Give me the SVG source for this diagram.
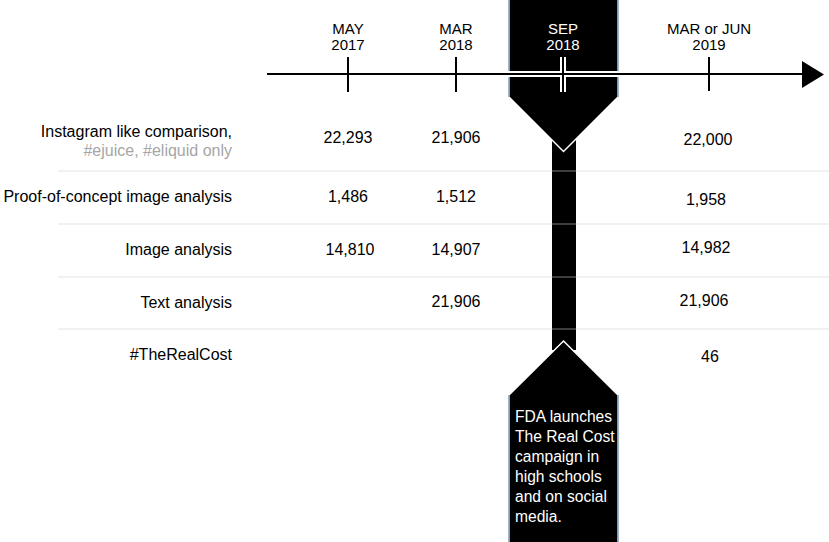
<svg xmlns="http://www.w3.org/2000/svg" width="829" height="542" viewBox="0 0 829 542">
<style>
text{font-family:"Liberation Sans",Arial,sans-serif;font-size:16px;fill:#000}
.t{font-size:15px}
.b{font-size:15.6px}
.r{text-anchor:end}
.m{text-anchor:middle}
.g{fill:#a6a6a6}
.w{fill:#fff}
.sep{stroke:#d0d0d0;stroke-opacity:0.4;stroke-width:1.5}
.blk{fill:#000;stroke:#fff;stroke-width:1.5}
.blue{stroke:#41719c;stroke-width:1}
</style>
<rect width="829" height="542" fill="#fff"/>
<g id="sep-bar">
<rect x="552" y="135" width="24" height="215" fill="#000"/>
<path class="blk" d="M509,-2 L618,-2 L618,97 L563.5,151.5 L509,97 Z"/>
<line class="blue" x1="509" y1="0" x2="509" y2="97"/>
<line class="blue" x1="618" y1="0" x2="618" y2="97"/>
<path class="blk" d="M563.5,341 L618,395 L618,544 L509,544 L509,395 Z"/>
<line class="blue" x1="509" y1="395" x2="509" y2="542"/>
<line class="blue" x1="618" y1="395" x2="618" y2="542"/>
<text class="w b" x="515" y="422">FDA launches</text>
<text class="w b" x="515" y="442">The Real Cost</text>
<text class="w b" x="515" y="462">campaign in</text>
<text class="w b" x="515" y="482">high schools</text>
<text class="w b" x="515" y="502">and on social</text>
<text class="w b" x="515" y="522">media.</text>
</g>
<g id="separators">
<line class="sep" x1="58" y1="171" x2="829" y2="171"/>
<line class="sep" x1="58" y1="224" x2="829" y2="224"/>
<line class="sep" x1="58" y1="277" x2="829" y2="277"/>
<line class="sep" x1="58" y1="329" x2="829" y2="329"/>
</g>
<g id="timeline">
<g stroke="#fff" stroke-width="6" fill="none">
<line x1="267" y1="74" x2="804" y2="74"/>
<line x1="563" y1="57" x2="563" y2="92"/>
</g>
<g stroke="#000" stroke-width="2" fill="none">
<line x1="267" y1="74" x2="804" y2="74"/>
<line x1="348" y1="57" x2="348" y2="92"/>
<line x1="456" y1="57" x2="456" y2="92"/>
<line x1="709" y1="57" x2="709" y2="91"/>
<line x1="563" y1="57" x2="563" y2="92"/>
</g>
<path d="M802,61 L824,74.5 L802,88 Z" fill="#000"/>
<text class="m t" x="348" y="34">MAY</text>
<text class="m t" x="348" y="50">2017</text>
<text class="m t" x="456" y="34">MAR</text>
<text class="m t" x="456" y="50">2018</text>
<text class="m t w" x="563" y="34">SEP</text>
<text class="m t w" x="563" y="50">2018</text>
<text class="m t" x="709" y="34">MAR or JUN</text>
<text class="m t" x="709" y="50">2019</text>
</g>
<g id="row-instagram">
<text class="r" x="232" y="137">Instagram like comparison,</text>
<text class="r g" x="232" y="156">#ejuice, #eliquid only</text>
<text class="m" x="348" y="143">22,293</text>
<text class="m" x="456" y="143">21,906</text>
<text class="m" x="708" y="145">22,000</text>
</g>
<g id="row-proof">
<text class="r" x="232" y="202">Proof-of-concept image analysis</text>
<text class="m" x="348" y="202">1,486</text>
<text class="m" x="456" y="202">1,512</text>
<text class="m" x="706" y="205">1,958</text>
</g>
<g id="row-image">
<text class="r" x="232" y="255">Image analysis</text>
<text class="m" x="350" y="255">14,810</text>
<text class="m" x="456" y="255">14,907</text>
<text class="m" x="706" y="253">14,982</text>
</g>
<g id="row-text">
<text class="r" x="232" y="308">Text analysis</text>
<text class="m" x="456" y="307">21,906</text>
<text class="m" x="704" y="306">21,906</text>
</g>
<g id="row-realcost">
<text class="r" x="232" y="360">#TheRealCost</text>
<text class="m" x="710" y="362">46</text>
</g>
</svg>
